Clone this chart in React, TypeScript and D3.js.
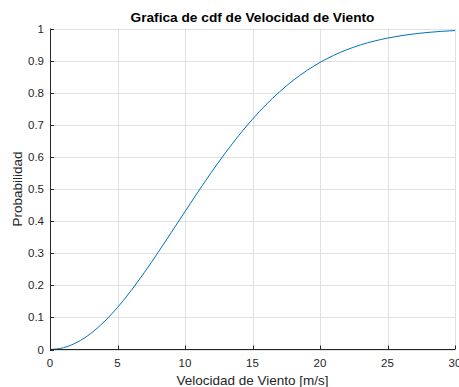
import React from "react";
import * as d3 from "d3";

const speeds = [0,1,2,3,4,5,6,7,8,9,10,11,12,13,14,15,16,17,18,19,20,21,22,23,24,25,26,27,28,29,30];
const probs = [0,0.0056,0.0222,0.0493,0.086,0.131,0.1831,0.2406,0.302,0.3656,0.4298,0.4933,0.5547,0.613,0.6675,0.7175,0.7626,0.8028,0.838,0.8684,0.8943,0.9161,0.9341,0.9488,0.9607,0.9701,0.9776,0.9834,0.9878,0.9911,0.9936];
const xTicks = [0,5,10,15,20,25,30];
const yTicks = [0,0.1,0.2,0.3,0.4,0.5,0.6,0.7,0.8,0.9,1];
const title = "Grafica de cdf de Velocidad de Viento";
const xLabel = "Velocidad de Viento [m/s]";
const yLabel = "Probabilidad";

export default function App() {
  const W = 459, H = 387;
  const left = 50, right = 455, top = 28.5, bottom = 349.5;
  const x = d3.scaleLinear().domain([0, 30]).range([left, right]);
  const y = d3.scaleLinear().domain([0, 1]).range([bottom, top]);
  const pts = speeds.map((s, i) => [s, probs[i]] as [number, number]);
  const line = d3.line<[number, number]>().x(d => x(d[0])).y(d => y(d[1])).curve(d3.curveMonotoneX);
  const font = "'Liberation Sans', Arial, Helvetica, sans-serif";
  const axisColor = "#262626";
  const gridColor = "#e1e1e1";
  const tickLen = 4;
  return (
    <svg width={W} height={H} style={{ position: "absolute", left: 0, top: 0, background: "#fff" }} fontFamily={font}>
      <rect x={0} y={0} width={W} height={H} fill="#fff" />
      {xTicks.map(t => (
        <line key={"gx" + t} x1={Math.round(x(t)) + 0.5} x2={Math.round(x(t)) + 0.5} y1={top} y2={bottom} stroke={gridColor} strokeWidth={1} />
      ))}
      {yTicks.map(t => (
        <line key={"gy" + t} x1={left} x2={right} y1={Math.round(y(t)) + 0.5} y2={Math.round(y(t)) + 0.5} stroke={gridColor} strokeWidth={1} />
      ))}
      <path d={line(pts) || ""} fill="none" stroke="#0072BD" strokeWidth={1} />
      <line x1={left + 0.5} x2={left + 0.5} y1={top} y2={bottom + 0.5} stroke={axisColor} strokeWidth={1} />
      <line x1={left} x2={right} y1={bottom} y2={bottom} stroke={axisColor} strokeWidth={1} />
      {xTicks.map(t => (
        <g key={"tx" + t}>
          <line x1={Math.round(x(t)) + 0.5} x2={Math.round(x(t)) + 0.5} y1={bottom} y2={bottom - tickLen} stroke={axisColor} strokeWidth={1} />
          <text x={x(t)} y={367} textAnchor="middle" fontSize={11.5} fill={axisColor}>{t}</text>
        </g>
      ))}
      {yTicks.map(t => (
        <g key={"ty" + t}>
          <line x1={left} x2={left + tickLen} y1={Math.round(y(t)) + 0.5} y2={Math.round(y(t)) + 0.5} stroke={axisColor} strokeWidth={1} />
          <text x={44} y={y(t) + 4} textAnchor="end" fontSize={11.5} fill={axisColor}>{t}</text>
        </g>
      ))}
      <text x={(left + right) / 2} y={21.5} textAnchor="middle" fontSize={13.7} fontWeight="bold" fill="#000">{title}</text>
      <text x={(left + right) / 2} y={385} textAnchor="middle" fontSize={13.5} fill={axisColor}>{xLabel}</text>
      <text transform={`translate(22, ${(top + bottom) / 2}) rotate(-90)`} textAnchor="middle" fontSize={13.5} fill={axisColor}>{yLabel}</text>
    </svg>
  );
}
